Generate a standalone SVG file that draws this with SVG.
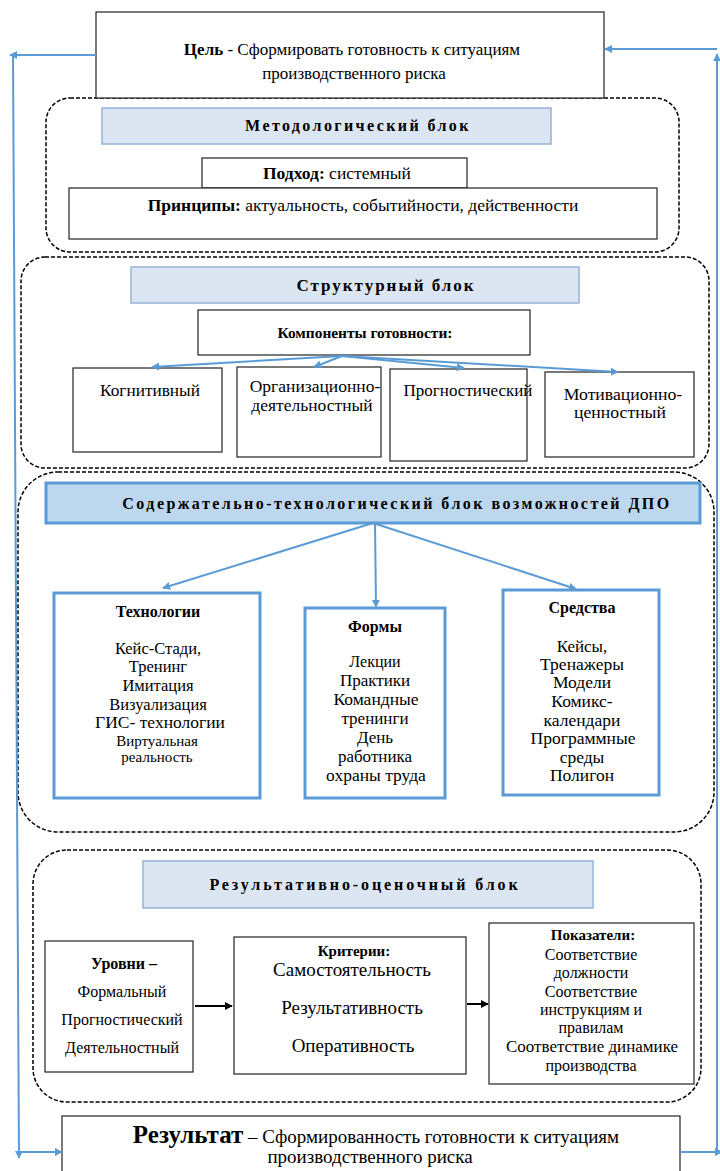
<svg xmlns="http://www.w3.org/2000/svg" width="720" height="1171" viewBox="0 0 720 1171">
<defs>
<marker id="ab" viewBox="0 0 10 10" refX="9" refY="5" markerWidth="4" markerHeight="4" orient="auto-start-reverse" markerUnits="strokeWidth"><path d="M0,0 L10,5 L0,10 z" fill="#5b9bd5"/></marker>
<marker id="ak" viewBox="0 0 10 10" refX="9" refY="5" markerWidth="4" markerHeight="4" orient="auto" markerUnits="strokeWidth"><path d="M0,0 L10,5 L0,10 z" fill="#000"/></marker>
<style>
text{font-family:"Liberation Serif","Times New Roman",serif;fill:#000;text-anchor:middle}
.b{font-weight:bold}
.box{fill:#fff;stroke:#222;stroke-width:1.2}
.bbox{fill:#fff;stroke:#5b9bd5;stroke-width:3}
.blk{fill:none;stroke:#000;stroke-width:1.5;stroke-dasharray:4 2}
.hdr{fill:#dce6f2;stroke:#95b3d7;stroke-width:1.5}
.hdr2{fill:#bdd7ee;stroke:#5b9bd5;stroke-width:3}
.ht{font-weight:bold;font-size:16px;letter-spacing:2.4px}
.cb{stroke:#5b9bd5;stroke-width:2;fill:none}
.ck{stroke:#000;stroke-width:2;fill:none}
</style>
</defs>

<g id="block-method">
<rect class="blk" x="46" y="98" width="633" height="154" rx="24"/>
</g>
<g id="block-struct">
<rect class="blk" x="21" y="257" width="688" height="211" rx="24"/>
</g>
<g id="block-content">
<rect class="blk" x="18" y="472" width="696" height="360" rx="40"/>
</g>
<g id="block-result">
<rect class="blk" x="33" y="850" width="668" height="252" rx="34"/>
</g>

<g id="goal">
<rect class="box" x="96" y="12" width="508" height="86"/>
<text x="352" y="55" font-size="17"><tspan class="b">Цель</tspan> - Сформировать готовность к ситуациям</text>
<text x="354" y="79" font-size="17">производственного риска</text>
</g>

<g id="hdr-method">
<rect class="hdr" x="102" y="108" width="449" height="36"/>
<text class="ht" x="358" y="131">Методологический блок</text>
</g>
<g id="approach">
<rect class="box" x="202" y="158" width="265" height="30"/>
<text x="337" y="179" font-size="17.5"><tspan class="b">Подход:</tspan> системный</text>
</g>
<g id="principles">
<rect class="box" x="69" y="188" width="588" height="51"/>
<text x="363" y="211" font-size="17.5"><tspan class="b">Принципы:</tspan> актуальность, событийности, действенности</text>
</g>

<g id="hdr-struct">
<rect class="hdr" x="131" y="267" width="448" height="36"/>
<text class="ht" x="386" y="291" style="font-size:17px;letter-spacing:2px">Структурный блок</text>
</g>
<g id="components">
<rect class="box" x="198" y="310" width="332" height="45"/>
<text class="b" x="365" y="338" font-size="15.4">Компоненты готовности:</text>
</g>
<g id="cognitive">
<rect class="box" x="73" y="368" width="149" height="84"/>
<text x="150" y="396" font-size="17.3">Когнитивный</text>
</g>
<g id="org">
<rect class="box" x="237" y="367" width="144" height="90"/>
<text x="315" y="392" font-size="17.5">Организационно-</text>
<text x="312" y="411" font-size="17.5">деятельностный</text>
</g>
<g id="prog">
<rect class="box" x="390" y="369" width="137" height="92"/>
<text x="468" y="396" font-size="17">Прогностический</text>
</g>
<g id="motiv">
<rect class="box" x="545" y="372" width="149" height="85"/>
<text x="623" y="400" font-size="17.7">Мотивационно-</text>
<text x="620" y="418" font-size="17.7">ценностный</text>
</g>

<g id="hdr-content">
<rect class="hdr2" x="46" y="483" width="654" height="40"/>
<text class="ht" x="397" y="509" style="letter-spacing:2.45px">Содержательно-технологический блок возможностей ДПО</text>
</g>
<g id="tech">
<rect class="bbox" x="54" y="593" width="206" height="205"/>
<text class="b" x="158" y="617" font-size="16">Технологии</text>
<text x="158" y="654" font-size="16.5">Кейс-Стади,</text>
<text x="158" y="672" font-size="16.5">Тренинг</text>
<text x="158" y="691" font-size="16.5">Имитация</text>
<text x="158" y="710" font-size="16.5">Визуализация</text>
<text x="160" y="728" font-size="17.5">ГИС- технологии</text>
<text x="157" y="746" font-size="15">Виртуальная</text>
<text x="157" y="762" font-size="15">реальность</text>
</g>
<g id="forms">
<rect class="bbox" x="305" y="608" width="140" height="190"/>
<text class="b" x="375" y="632" font-size="16">Формы</text>
<text x="375" y="667" font-size="16">Лекции</text>
<text x="375" y="686" font-size="17">Практики</text>
<text x="376" y="705" font-size="17.5">Командные</text>
<text x="375" y="724" font-size="17">тренинги</text>
<text x="375" y="743" font-size="17">День</text>
<text x="375" y="762" font-size="17">работника</text>
<text x="376" y="781" font-size="17.5">охраны труда</text>
</g>
<g id="means">
<rect class="bbox" x="503" y="590" width="156" height="205"/>
<text class="b" x="582" y="613" font-size="16">Средства</text>
<text x="582" y="652" font-size="17">Кейсы,</text>
<text x="582" y="670" font-size="17.5">Тренажеры</text>
<text x="582" y="688" font-size="17.5">Модели</text>
<text x="582" y="707" font-size="17.5">Комикс-</text>
<text x="582" y="726" font-size="17.5">календари</text>
<text x="583" y="744" font-size="17.5">Программные</text>
<text x="582" y="763" font-size="17.5">среды</text>
<text x="582" y="781" font-size="17.5">Полигон</text>
</g>

<g id="hdr-result">
<rect class="hdr" x="143" y="861" width="450" height="47"/>
<text class="ht" x="365" y="890" style="letter-spacing:2.9px">Результативно-оценочный блок</text>
</g>
<g id="levels">
<rect class="box" x="45" y="941" width="148" height="131"/>
<text class="b" x="124" y="969" font-size="16">Уровни –</text>
<text x="122" y="997" font-size="16">Формальный</text>
<text x="122" y="1025" font-size="16">Прогностический</text>
<text x="122" y="1053" font-size="16">Деятельностный</text>
</g>
<g id="criteria">
<rect class="box" x="234" y="937" width="232" height="137"/>
<text class="b" x="354" y="956" font-size="15">Критерии:</text>
<text x="352" y="976" font-size="19">Самостоятельность</text>
<text x="352" y="1014" font-size="19">Результативность</text>
<text x="353" y="1052" font-size="19">Оперативность</text>
</g>
<g id="indicators">
<rect class="box" x="489" y="923" width="205" height="161"/>
<text class="b" x="593" y="940" font-size="15">Показатели:</text>
<text x="591" y="960" font-size="16">Соответствие</text>
<text x="591" y="978" font-size="16">должности</text>
<text x="591" y="997" font-size="16">Соответствие</text>
<text x="591" y="1015" font-size="16">инструкциям и</text>
<text x="591" y="1033" font-size="16">правилам</text>
<text x="592" y="1052" font-size="17">Соответствие динамике</text>
<text x="591" y="1071" font-size="16">производства</text>
</g>

<g id="result">
<rect class="box" x="62" y="1116" width="618" height="70"/>
<text x="376" y="1143" font-size="19"><tspan class="b" font-size="25">Результат</tspan> – Сформированность готовности к ситуациям</text>
<text x="370" y="1163" font-size="19">производственного риска</text>
</g>

<g id="connectors">
<line class="cb" x1="342" y1="356" x2="152" y2="367" marker-end="url(#ab)"/>
<line class="cb" x1="342" y1="356" x2="314" y2="367" marker-end="url(#ab)"/>
<line class="cb" x1="342" y1="356" x2="464" y2="368" marker-end="url(#ab)"/>
<line class="cb" x1="342" y1="356" x2="618" y2="372" marker-end="url(#ab)"/>
<line class="cb" x1="373" y1="523" x2="163" y2="588" marker-end="url(#ab)"/>
<line class="cb" x1="375" y1="523" x2="376" y2="607" marker-end="url(#ab)"/>
<line class="cb" x1="373" y1="523" x2="576" y2="589" marker-end="url(#ab)"/>
<line class="ck" x1="195" y1="1006" x2="232" y2="1006" marker-end="url(#ak)"/>
<line class="ck" x1="467" y1="1004" x2="488" y2="1004" marker-end="url(#ak)"/>
<line class="cb" x1="96" y1="55" x2="10" y2="55" marker-end="url(#ab)"/>
<line class="cb" x1="13" y1="55" x2="19" y2="1158" marker-end="url(#ab)"/>
<line class="cb" x1="22" y1="1152" x2="62" y2="1152" marker-end="url(#ab)"/>
<line class="cb" x1="680" y1="1152" x2="722" y2="1152" marker-end="url(#ab)"/>
<line class="cb" x1="717" y1="1150" x2="717" y2="54" marker-end="url(#ab)"/>
<line class="cb" x1="717" y1="49" x2="605" y2="49" marker-end="url(#ab)"/>
</g>
</svg>
